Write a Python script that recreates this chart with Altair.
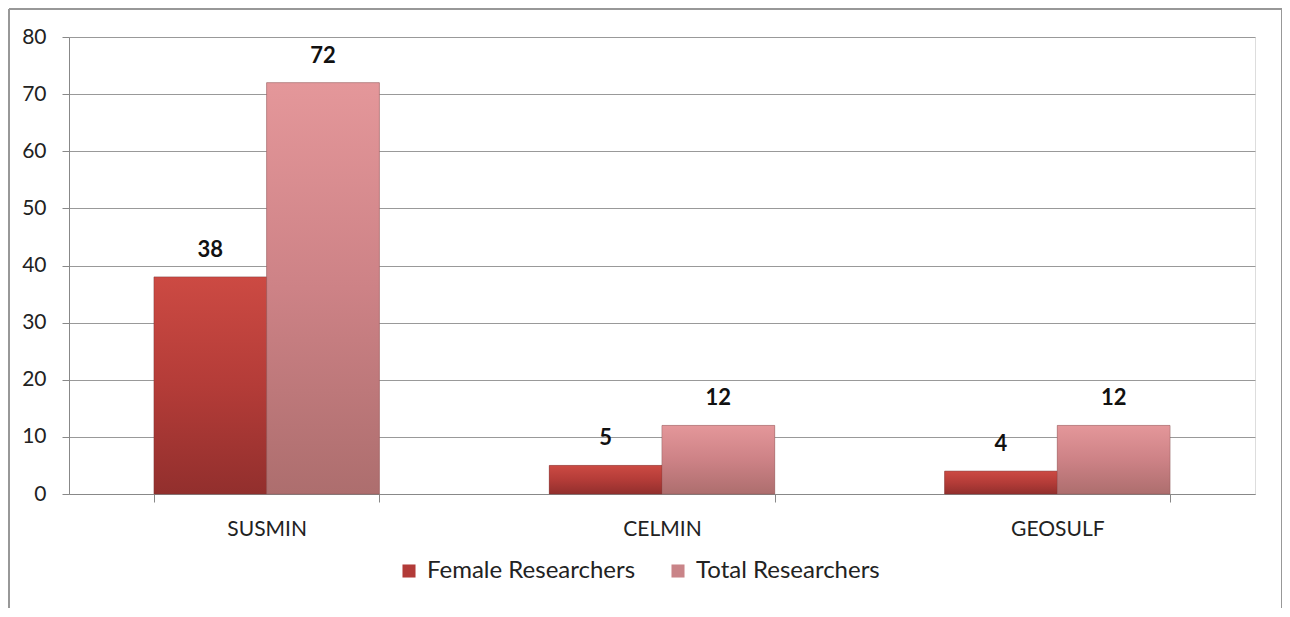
import altair as alt
import pandas as pd

categories = ["SUSMIN", "CELMIN", "GEOSULF"]
female = [38, 5, 4]
total = [72, 12, 12]
series = ["Female Researchers", "Total Researchers"]

rows = []
for c, f, t in zip(categories, female, total):
    rows.append({"project": c, "series": series[0], "value": f})
    rows.append({"project": c, "series": series[1], "value": t})
df = pd.DataFrame(rows)

FONT = "Lato"
xenc = alt.X("project:N", sort=categories, title=None,
             scale=alt.Scale(paddingInner=0.43, paddingOuter=0.215),
             axis=alt.Axis(labelAngle=0, labelFontSize=21, labelColor="#222",
                           labelFont=FONT, tickBand="extent", tickSize=8,
                           tickColor="#888", domainColor="#888",
                           labelPadding=16, grid=False))
xoff = alt.XOffset("series:N", sort=series, scale=alt.Scale(paddingInner=0))
yenc = alt.Y("value:Q", title=None,
             scale=alt.Scale(domain=[0, 80]),
             axis=alt.Axis(values=list(range(0, 81, 10)), labelFontSize=21,
                           labelFont=FONT, labelColor="#222", tickSize=7,
                           tickColor="#888", domainColor="#888", gridColor="#999",
                           labelPadding=16))

base = alt.Chart(df).mark_bar(stroke="#8a5050", strokeWidth=0.6, strokeOpacity=0.6).encode(
    x=xenc, xOffset=xoff, y=yenc,
    color=alt.Color("series:N", sort=series,
                    scale=alt.Scale(domain=series, range=["#b23b38", "#c98488"]),
                    legend=alt.Legend(title=None, orient="none", direction="horizontal",
                                      legendX=328, legendY=522, labelFontSize=24,
                                      labelFont=FONT, labelColor="#222", labelLimit=500,
                                      symbolType="square", symbolSize=170,
                                      symbolStrokeWidth=0, columnPadding=30,
                                      labelOffset=6)),
)

grad_f = alt.Gradient(gradient="linear", x1=0, x2=0, y1=0, y2=1,
                      stops=[alt.GradientStop(color="#cc4a43", offset=0),
                             alt.GradientStop(color="#b43c38", offset=0.5),
                             alt.GradientStop(color="#922f2d", offset=1)])
grad_t = alt.Gradient(gradient="linear", x1=0, x2=0, y1=0, y2=1,
                      stops=[alt.GradientStop(color="#e4979a", offset=0),
                             alt.GradientStop(color="#cd8286", offset=0.5),
                             alt.GradientStop(color="#ad6e6e", offset=1)])

fem = alt.Chart(df).transform_filter(alt.datum.series == series[0]).mark_bar(
    color=grad_f, stroke="#7a3030", strokeWidth=0.6, strokeOpacity=0.5).encode(
    x=alt.X("project:N", sort=categories), xOffset=xoff, y="value:Q")
tot = alt.Chart(df).transform_filter(alt.datum.series == series[1]).mark_bar(
    color=grad_t, stroke="#8a5555", strokeWidth=0.6, strokeOpacity=0.5).encode(
    x=alt.X("project:N", sort=categories), xOffset=xoff, y="value:Q")

labels = alt.Chart(df).mark_text(dy=-27, fontSize=22, fontWeight="bold",
                                 font=FONT, color="#111").encode(
    x=alt.X("project:N", sort=categories), xOffset=xoff,
    y="value:Q", text="value:Q",
)

bstyle = dict(color="#999", strokeWidth=1.5, clip=False)
top = alt.Chart(df).mark_rule(**bstyle).encode(x=alt.value(-60), x2=alt.value(1213), y=alt.value(-28))
left = alt.Chart(df).mark_rule(**bstyle).encode(x=alt.value(-60), y=alt.value(-28), y2=alt.value(580))
right = alt.Chart(df).mark_rule(**bstyle).encode(x=alt.value(1213), y=alt.value(-28), y2=alt.value(580))

chart = alt.layer(base, fem, tot, labels, top, left, right).properties(
    width=1186, height=457,
    padding={"left": 61, "top": 29, "right": 27, "bottom": 114},
    autosize=alt.AutoSizeParams(type="none"),
).configure_view(stroke=None).configure(background="white")

chart.save("out.html", embed_options={"renderer": "svg", "actions": False})
